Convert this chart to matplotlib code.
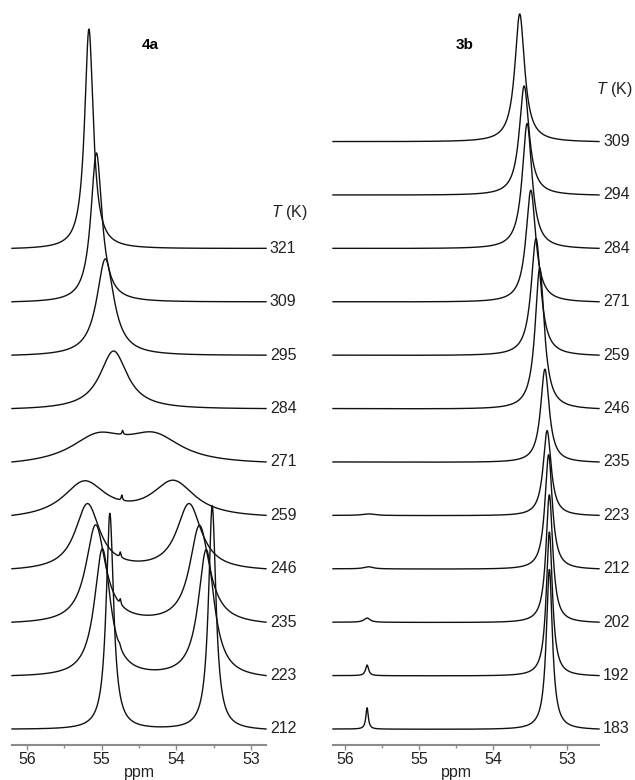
import numpy as np
import matplotlib
matplotlib.use('Agg')
import matplotlib.pyplot as plt
from matplotlib.ticker import MultipleLocator
import matplotlib.transforms as mtransforms

plt.rcParams['font.family'] = ['Liberation Sans', 'DejaVu Sans']
plt.rcParams['mathtext.fontset'] = 'custom'
plt.rcParams['mathtext.it'] = 'Liberation Sans:italic'
plt.rcParams['mathtext.rm'] = 'Liberation Sans'

# ---- data: one list per trace of (ppm, height, fwhm) ----
temps_4a = [212, 223, 235, 246, 259, 271, 284, 295, 309, 321]
peaks_4a = [
    [(54.89, 4.05, 0.12), (53.52, 4.20, 0.12)],
    [(54.99, 2.40, 0.26), (53.60, 2.40, 0.26), (54.76, 0.05, 0.03)],
    [(55.08, 1.85, 0.32), (53.69, 1.85, 0.32), (54.75, 0.10, 0.02)],
    [(55.19, 1.25, 0.40), (53.83, 1.25, 0.40), (54.75, 0.10, 0.02)],
    [(55.23, 0.68, 0.70), (54.04, 0.68, 0.70), (54.73, 0.10, 0.02)],
    [(55.05, 0.50, 0.90), (54.30, 0.50, 0.90), (54.72, 0.08, 0.02)],
    [(54.84, 1.10, 0.45)],
    [(54.95, 1.82, 0.28)],
    [(55.07, 2.80, 0.18)],
    [(55.17, 4.12, 0.14)],
]

temps_3b = [183, 192, 202, 212, 223, 235, 246, 259, 271, 284, 294, 309]
peaks_3b = [
    [(53.24, 3.00, 0.10), (55.70, 0.40, 0.04)],
    [(53.24, 2.70, 0.10), (55.70, 0.20, 0.05)],
    [(53.24, 2.40, 0.11), (55.70, 0.08, 0.10)],
    [(53.25, 2.15, 0.12), (55.68, 0.04, 0.15)],
    [(53.27, 1.60, 0.13), (55.68, 0.03, 0.20)],
    [(53.30, 1.75, 0.14)],
    [(53.37, 2.65, 0.15)],
    [(53.42, 2.20, 0.16)],
    [(53.49, 2.10, 0.16)],
    [(53.54, 2.35, 0.16)],
    [(53.58, 2.05, 0.16)],
    [(53.64, 2.40, 0.16)],
]


def spectrum(x, peaks):
    y = np.zeros_like(x)
    for c, h, w in peaks:
        y += h / (1 + ((x - c) / (w / 2)) ** 2)
    # flatten the tails so both ends sit on the baseline
    y -= y[0] + (y[-1] - y[0]) * (x - x[0]) / (x[-1] - x[0])
    return y


def panel(ax, temps, peaks, xlim, name, name_x, tk_x, tk_y, tk_ha):
    x = np.linspace(xlim[0], xlim[1], 2000)
    tr = mtransforms.blended_transform_factory(ax.transAxes, ax.transData)
    for i, (t, pk) in enumerate(zip(temps, peaks)):
        ax.plot(x, spectrum(x, pk) + i, color='#111111', lw=1.0, clip_on=False)
        ax.text(1.015, i, str(t), transform=tr, va='center', ha='left',
                fontsize=11.5, color='#222222')
    ax.set_xlim(xlim)
    ax.set_ylim(-0.3, 13.65)
    ax.text(name_x, 12.8, name, fontweight='bold', fontsize=11, ha='center', va='center')
    ax.text(tk_x, tk_y, '$T$ (K)', transform=tr, va='center', ha=tk_ha,
            fontsize=11.5, color='#222222')
    for s in ['left', 'right', 'top']:
        ax.spines[s].set_visible(False)
    ax.spines['bottom'].set_color('#8c8c8c')
    ax.spines['bottom'].set_linewidth(1.5)
    ax.set_yticks([])
    ax.xaxis.set_major_locator(MultipleLocator(1))
    ax.xaxis.set_minor_locator(MultipleLocator(0.5))
    ax.tick_params(axis='x', which='major', length=3.5, width=1, color='#8c8c8c',
                   labelsize=11.5, pad=1.5, labelcolor='#222222')
    ax.tick_params(axis='x', which='minor', length=2, width=1, color='#8c8c8c')
    ax.annotate('ppm', xy=(54.5, 0), xycoords=('data', 'axes fraction'),
                xytext=(0, -27), textcoords='offset pixels', ha='center', va='center',
                fontsize=11.5, color='#222222', annotation_clip=False)


fig = plt.figure(figsize=(6.35, 7.8), dpi=100)
ax1 = fig.add_axes([12 / 635, 35 / 780, 254 / 635, 745 / 780])
ax2 = fig.add_axes([333 / 635, 35 / 780, 266 / 635, 745 / 780])

panel(ax1, temps_4a, peaks_4a, (56.2, 52.8), '4a', 54.35, 1.02, 9.68, 'left')
panel(ax2, temps_3b, peaks_3b, (56.16, 52.57), '3b', 54.38, 1.125, 11.97, 'right')

fig.savefig('out.png', dpi=100)
